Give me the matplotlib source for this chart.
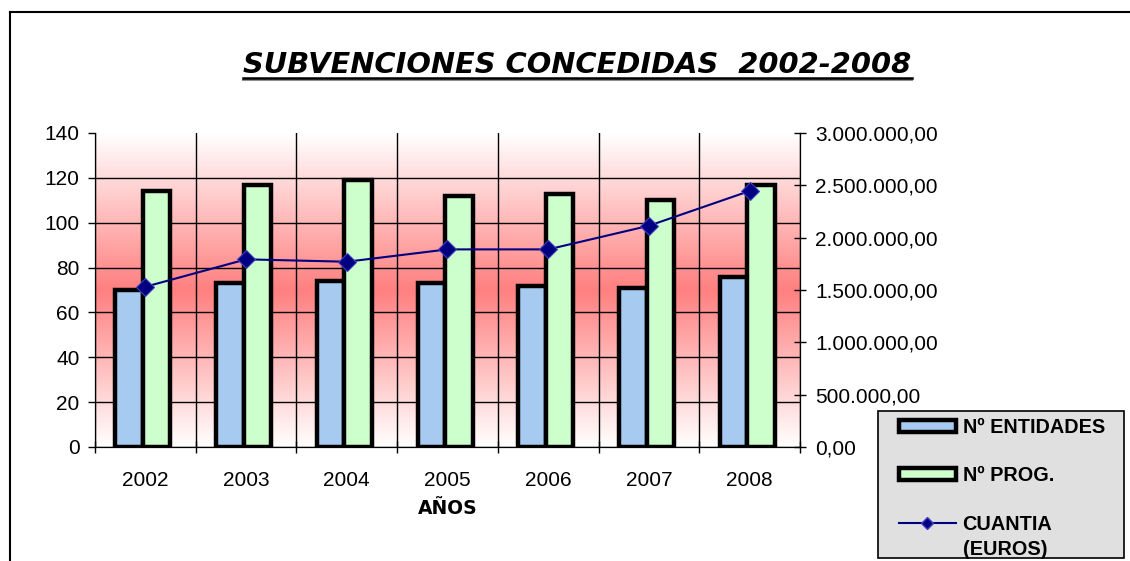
import matplotlib
matplotlib.use('Agg')
import matplotlib.pyplot as plt
import numpy as np
from matplotlib.ticker import FuncFormatter
from matplotlib.patches import Rectangle, Patch
from matplotlib.lines import Line2D
from matplotlib.font_manager import FontProperties

# data
years = ['2002', '2003', '2004', '2005', '2006', '2007', '2008']
entidades = [70, 73, 74, 73, 72, 71, 76]
programas = [114, 117, 119, 112, 113, 110, 117]
cuantia = [1531000, 1793000, 1770000, 1888000, 1888000, 2114000, 2446000]

blue = '#A6CAF0'
green = '#CCFFCC'
navy = '#000080'

W, H = 1130, 561
fig = plt.figure(figsize=(W / 100, H / 100), dpi=100)
ax = fig.add_axes([95 / W, 114 / H, 705 / W, 314 / H])

# background gradient: white at top and bottom, red in the middle
n = 256
t = 1 - np.abs(np.linspace(-1, 1, n))
top = np.array([1.0, 1.0, 1.0])
mid = np.array([1.0, 0.5, 0.5])
grad = top[None, :] * (1 - t[:, None]) + mid[None, :] * t[:, None]
ax.imshow(grad[:, None, :], extent=[-0.5, 6.5, 0, 140], aspect='auto',
          origin='lower', zorder=-1, interpolation='bilinear')

x = np.arange(len(years))
w = 0.273
off = -0.024
ax.bar(x - w / 2 + off, entidades, w, color=blue, edgecolor='black', linewidth=3.2, zorder=2)
ax.bar(x + w / 2 + off, programas, w, color=green, edgecolor='black', linewidth=3.2, zorder=2)

ax.set_xlim(-0.5, 6.5)
ax.set_ylim(0, 140)
ax.set_yticks(range(0, 141, 20))
ax.set_axisbelow(True)

# x ticks on category boundaries, labels at centers
ax.set_xticks(np.arange(-0.5, 7, 1))
ax.set_xticklabels([])
ax.set_xticks(x, minor=True)
ax.set_xticklabels(years, minor=True)
ax.tick_params(axis='x', which='major', direction='inout', length=8, width=1)
ax.tick_params(axis='x', which='minor', length=0, pad=17, labelsize=15)
ax.tick_params(axis='y', direction='out', length=5, width=1, pad=6, labelsize=15)
for lab in ax.get_xticklabels(minor=True) + ax.get_yticklabels():
    lab.set_family('Liberation Sans')

ax.grid(True, which='major', color='black', linewidth=1.0)
ax.yaxis.get_gridlines()[-1].set_visible(False)
ax.spines['top'].set_visible(False)

ax.set_xlabel('AÑOS', fontsize=13.5, fontweight='bold', family='DejaVu Sans', labelpad=7)

ax2 = ax.twinx()
ax2.plot(x, cuantia, color=navy, linewidth=1.5, marker='D', markersize=9,
         markerfacecolor=navy, markeredgecolor='#4040C0', markeredgewidth=0.8, zorder=3)
ax2.set_ylim(0, 3000000)
ax2.set_yticks(range(0, 3000001, 500000))
ax2.yaxis.set_major_formatter(FuncFormatter(
    lambda v, p: f"{v:,.2f}".replace(',', 'X').replace('.', ',').replace('X', '.')))
ax2.tick_params(axis='y', direction='inout', length=9, width=1, pad=6.5, labelsize=15)
for lab in ax2.get_yticklabels():
    lab.set_family('Liberation Sans')
ax2.spines['top'].set_visible(False)

# title with underline
title = fig.text(0.511, 1 - 65 / H, 'SUBVENCIONES CONCEDIDAS  2002-2008', ha='center', va='center',
                 fontsize=20.8, fontweight='bold', style='italic', family='DejaVu Sans')

# legend box
fig.add_artist(Rectangle((878 / W, 1 - 558 / H), 246 / W, 147 / H, transform=fig.transFigure,
                         facecolor='#E0E0E0', edgecolor='black', linewidth=1.2, zorder=1))
handles = [Patch(facecolor=blue, edgecolor='black', linewidth=3.2),
           Patch(facecolor=green, edgecolor='black', linewidth=3.2),
           Line2D([], [], color=navy, linewidth=1.5, marker='D', markersize=6,
                  markerfacecolor=navy, markeredgecolor='#4040C0')]
leg = fig.legend(handles, ['Nº ENTIDADES', 'Nº PROG.', 'CUANTIA'], loc='upper left',
                 bbox_to_anchor=(899 / W, 1 - 418 / H), frameon=False, borderpad=0,
                 borderaxespad=0, handlelength=2.85, handleheight=0.55, handletextpad=0.35,
                 labelspacing=1.48, prop=FontProperties(family='Liberation Sans', weight='bold', size=14.3))
leg.set_zorder(5)

# frame lines of the chart area
fig.add_artist(Line2D([10 / W, 10 / W], [0, 1 - 12 / H], transform=fig.transFigure, color='black', linewidth=1.5))
fig.add_artist(Line2D([10 / W, 1], [1 - 12 / H, 1 - 12 / H], transform=fig.transFigure, color='black', linewidth=1.5))

fig.canvas.draw()
bb = title.get_window_extent()
fig.add_artist(Line2D([bb.x0 / W, bb.x1 / W], [(bb.y0 - 1) / H] * 2, transform=fig.transFigure,
                      color='#909090', linewidth=1.5))
fig.add_artist(Line2D([bb.x0 / W, bb.x1 / W], [(bb.y0 + 1) / H] * 2, transform=fig.transFigure,
                      color='black', linewidth=1.8))
tb = leg.get_texts()[2].get_window_extent()
fig.text(tb.x0 / W, ((tb.y0 + tb.y1) / 2 - 25) / H, '(EUROS)', ha='left', va='center',
         fontsize=14.3, fontweight='bold', family='Liberation Sans', zorder=6)

fig.savefig('out.png', dpi=100)
